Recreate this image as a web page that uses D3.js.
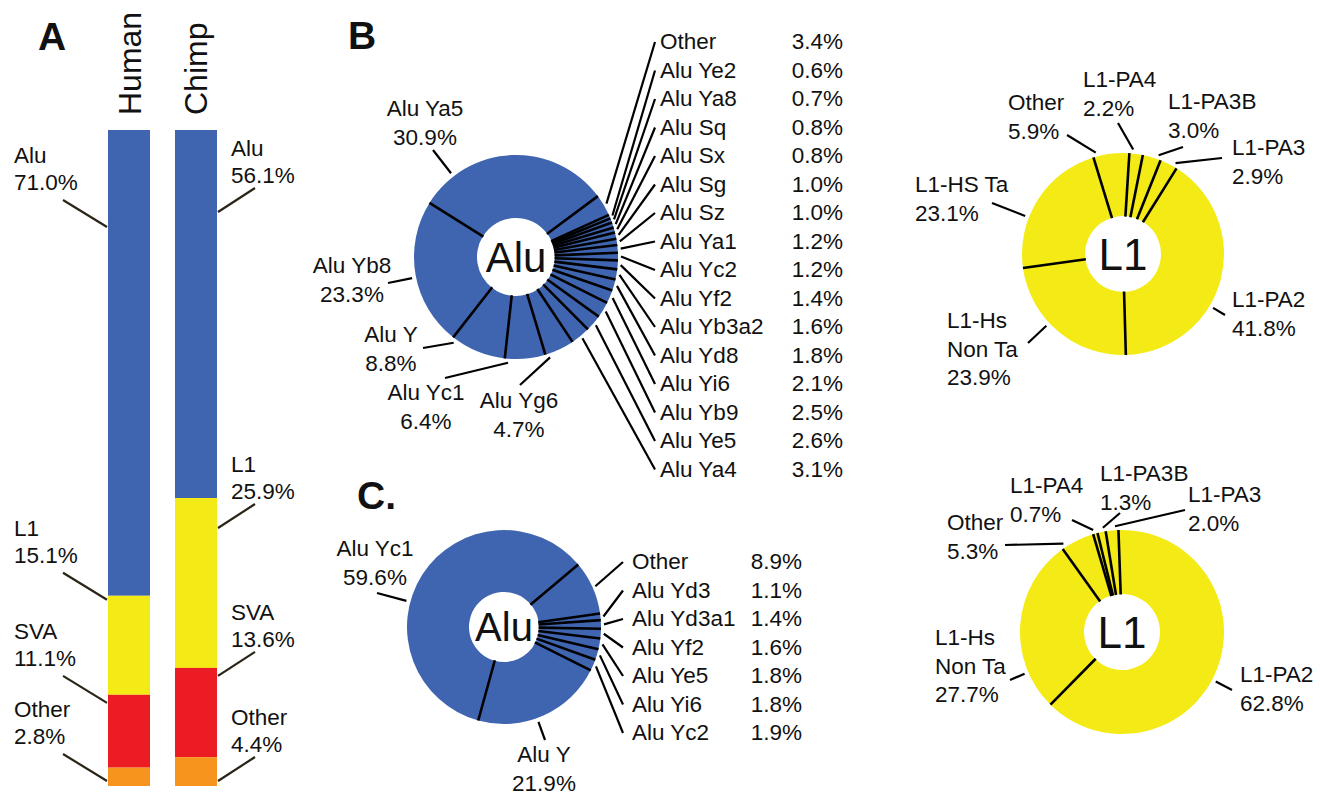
<!DOCTYPE html>
<html><head><meta charset="utf-8">
<script src="https://cdn.jsdelivr.net/npm/d3@7"></script>
<style>
body{margin:0;background:#fff}
svg{display:block}
text{font-family:"Liberation Sans",Arial,Helvetica,sans-serif;fill:#111}
</style>
</head><body>
<svg id="c" width="1320" height="797"></svg>
<script>
// ---------- DATA ----------
// Panel A
const species = ["Human", "Chimp"];
const repeatClasses = ["Alu", "L1", "SVA", "Other"];
const humanPct = [71.0, 15.1, 11.1, 2.8];
const chimpPct = [56.1, 25.9, 13.6, 4.4];
const classColors = ["#3f65b0", "#f4ea15", "#ec1c24", "#f7941d"];

// Panel B (Alu subfamilies, human), clockwise order
const bNames = ["Alu Ya5","Other","Alu Ye2","Alu Ya8","Alu Sq","Alu Sx","Alu Sg","Alu Sz","Alu Ya1","Alu Yc2","Alu Yf2","Alu Yb3a2","Alu Yd8","Alu Yi6","Alu Yb9","Alu Ye5","Alu Ya4","Alu Yg6","Alu Yc1","Alu Y","Alu Yb8"];
const bPct = [30.9,3.4,0.6,0.7,0.8,0.8,1.0,1.0,1.2,1.2,1.4,1.6,1.8,2.1,2.5,2.6,3.1,4.7,6.4,8.8,23.3];

// Panel B (L1 subfamilies, human)
const l1TopNames = ["L1-PA2","L1-Hs Non Ta","L1-HS Ta","Other","L1-PA4","L1-PA3B","L1-PA3"];
const l1TopPct = [41.8,23.9,23.1,5.9,2.2,3.0,2.9];

// Panel C (Alu subfamilies, chimp)
const cNames = ["Alu Yc1","Other","Alu Yd3","Alu Yd3a1","Alu Yf2","Alu Ye5","Alu Yi6","Alu Yc2","Alu Y"];
const cPct = [59.6,8.9,1.1,1.4,1.6,1.8,1.8,1.9,21.9];

// Panel C (L1 subfamilies, chimp)
const l1BotNames = ["L1-PA2","L1-Hs Non Ta","Other","L1-PA4","L1-PA3B","L1-PA3"];
const l1BotPct = [62.8,27.7,5.3,0.7,1.3,2.0];

const aluBlue = "#3f65b0";
const l1Yellow = "#f4ea15";

// ---------- DRAW ----------
const svg = d3.select("#c");
const FS = 22.5;

// Panel letters
[["A",38,50],["B",348,49],["C.",357,509]].forEach(([t,x,y]) =>
  svg.append("text").attr("x",x).attr("y",y).attr("font-size",39).attr("font-weight","bold").attr("fill","#000").text(t));

// ----- Panel A: stacked bars -----
const pctBySpecies = [humanPct, chimpPct];
const yA = d3.scaleLinear().domain([0,100]).range([130,786]);
const xA = d3.scaleBand().domain(species).range([108,217]).paddingInner(0.373).paddingOuter(0);
const leaderDy = {Human:[97,4,8,29], Chimp:[82,30,8,34]};
const gA = svg.append("g");

species.forEach((sp, si) => {
  const vals = pctBySpecies[si];
  let cum = 0;
  const x0 = xA(sp), bw = xA.bandwidth();
  gA.append("text")
    .attr("transform", `translate(${x0 + bw/2 + 11.5},115) rotate(-90)`)
    .attr("font-size", 32).text(sp);
  vals.forEach((v, ci) => {
    const yTop = yA(cum), yBot = yA(cum + v);
    cum += v;
    gA.append("rect").attr("x", x0).attr("y", yTop).attr("width", bw)
      .attr("height", yBot - yTop).attr("fill", classColors[ci]);
    const h = yBot - yTop;
    const e = yTop + Math.min(leaderDy[sp][ci], h - 5);
    const lab = [repeatClasses[ci], v.toFixed(1) + "%"];
    if (si === 0) {
      gA.append("line").attr("x1",63).attr("y1",e-27).attr("x2",x0-1).attr("y2",e)
        .attr("stroke","#2b2418").attr("stroke-width",2.2);
      lab.forEach((t,i)=>gA.append("text").attr("x",14).attr("y",e-72+i*27).attr("dy","0.36em").attr("font-size",FS).text(t));
    } else {
      gA.append("line").attr("x1",x0+bw+1).attr("y1",e).attr("x2",255).attr("y2",e-24)
        .attr("stroke","#2b2418").attr("stroke-width",2.2);
      lab.forEach((t,i)=>gA.append("text").attr("x",231).attr("y",e-64+i*27).attr("dy","0.36em").attr("font-size",FS).text(t));
    }
  });
});

// ----- Donut helper -----
function drawDonut(o) {
  const g = svg.append("g");
  const a0 = o.startDeg * Math.PI / 180;
  const pie = d3.pie().sort(null).value(d => d.v).startAngle(a0).endAngle(a0 + 2*Math.PI);
  const arcs = pie(o.names.map((n,i) => ({name:n, v:o.pct[i]})));
  const arc = d3.arc().innerRadius(o.r).outerRadius(o.R);
  const gc = g.append("g").attr("transform", `translate(${o.cx},${o.cy})`);
  gc.selectAll("path").data(arcs).join("path").attr("d", arc).attr("fill", o.color);
  const pt = (a, rad) => [Math.sin(a)*rad, -Math.cos(a)*rad];
  arcs.forEach(d => {
    const p1 = pt(d.startAngle, o.r - 0.5), p2 = pt(d.startAngle, o.R);
    gc.append("line").attr("x1",p1[0]).attr("y1",p1[1]).attr("x2",p2[0]).attr("y2",p2[1])
      .attr("stroke","#000").attr("stroke-width",2.6);
  });
  gc.append("text").attr("text-anchor","middle").attr("dy","0.36em")
    .attr("font-size", o.centerSize).attr("fill","#000").text(o.center);

  let listIdx = 0;
  arcs.forEach(d => {
    const name = d.data.name;
    const pctStr = d.data.v.toFixed(1) + "%";
    const lab = o.labels[name];
    if (lab) {
      const lines = (o.breaks && o.breaks[name]) ? o.breaks[name] : [name];
      lines.concat([pctStr]).forEach((t,i) =>
        g.append("text").attr("x",lab.x).attr("y",lab.y + i*28.5).attr("dy","0.36em")
          .attr("text-anchor", lab.anchor || "start").attr("font-size",FS).text(t));
      let ang = Math.atan2(lab.lx - o.cx, -(lab.ly - o.cy));
      const mid = (d.startAngle + d.endAngle)/2;
      ang += 2*Math.PI*Math.round((mid - ang)/(2*Math.PI));
      const m = Math.min(2*Math.PI/180, (d.endAngle - d.startAngle)/4);
      ang = Math.max(d.startAngle + m, Math.min(d.endAngle - m, ang));
      const p = pt(ang, o.R + 4);
      g.append("line").attr("x1",lab.lx).attr("y1",lab.ly).attr("x2",o.cx+p[0]).attr("y2",o.cy+p[1])
        .attr("stroke","#000").attr("stroke-width",2.2);
    } else if (o.list) {
      const ry = o.list.y0 + listIdx * o.list.dy;
      listIdx++;
      const mid = (d.startAngle + d.endAngle)/2;
      const p = pt(mid, o.R + 3);
      g.append("line").attr("x1",o.cx+p[0]).attr("y1",o.cy+p[1]).attr("x2",o.list.lineX).attr("y2",ry+1)
        .attr("stroke","#000").attr("stroke-width",2.2);
      g.append("text").attr("x",o.list.x).attr("y",ry).attr("dy","0.36em").attr("font-size",FS).text(name);
      g.append("text").attr("x",o.list.pctX).attr("y",ry).attr("dy","0.36em").attr("text-anchor","end").attr("font-size",FS).text(pctStr);
    }
  });
}

// Panel B Alu
drawDonut({
  cx:516, cy:257, R:102, r:39, startDeg:-58, color:aluBlue,
  names:bNames, pct:bPct, center:"Alu", centerSize:42,
  labels:{
    "Alu Ya5":{x:425,y:108,anchor:"middle",lx:433,ly:150},
    "Alu Yb8":{x:352,y:265,anchor:"middle",lx:388,ly:283},
    "Alu Y":{x:391,y:334,anchor:"middle",lx:423,ly:348},
    "Alu Yc1":{x:426,y:392,anchor:"middle",lx:445,ly:378},
    "Alu Yg6":{x:519,y:400,anchor:"middle",lx:520,ly:385}
  },
  list:{x:660, pctX:843, y0:41, dy:28.5, lineX:655}
});

// Panel B L1
drawDonut({
  cx:1123, cy:254, R:101, r:38, startDeg:32, color:l1Yellow,
  names:l1TopNames, pct:l1TopPct, center:"L1", centerSize:44,
  breaks:{"L1-Hs Non Ta":["L1-Hs","Non Ta"]},
  labels:{
    "L1-PA2":{x:1232,y:299,lx:1225,ly:315},
    "L1-Hs Non Ta":{x:947,y:320,lx:1028,ly:343},
    "L1-HS Ta":{x:915,y:184,lx:992,ly:203},
    "Other":{x:1008,y:102,lx:1067,ly:135},
    "L1-PA4":{x:1083,y:79,lx:1118,ly:123},
    "L1-PA3B":{x:1168,y:101,lx:1183,ly:147},
    "L1-PA3":{x:1232,y:147,lx:1222,ly:158}
  }
});

// Panel C Alu
drawDonut({
  cx:504, cy:627, R:97, r:35, startDeg:-164.6, color:aluBlue,
  names:cNames, pct:cPct, center:"Alu", centerSize:40,
  labels:{
    "Alu Yc1":{x:375,y:548,anchor:"middle",lx:377,ly:593},
    "Alu Y":{x:544,y:754,anchor:"middle",lx:545,ly:740}
  },
  list:{x:632, pctX:802, y0:561, dy:28.5, lineX:623}
});

// Panel C L1
drawDonut({
  cx:1122, cy:632, R:102, r:38, startDeg:-2, color:l1Yellow,
  names:l1BotNames, pct:l1BotPct, center:"L1", centerSize:44,
  breaks:{"L1-Hs Non Ta":["L1-Hs","Non Ta"]},
  labels:{
    "L1-PA2":{x:1240,y:674,lx:1232,ly:690},
    "L1-Hs Non Ta":{x:935,y:637,lx:1010,ly:680},
    "Other":{x:947,y:522,lx:1005,ly:545},
    "L1-PA4":{x:1010,y:485,lx:1072,ly:520},
    "L1-PA3B":{x:1100,y:473,lx:1120,ly:513},
    "L1-PA3":{x:1188,y:494,lx:1185,ly:510}
  }
});
</script>
</body></html>
